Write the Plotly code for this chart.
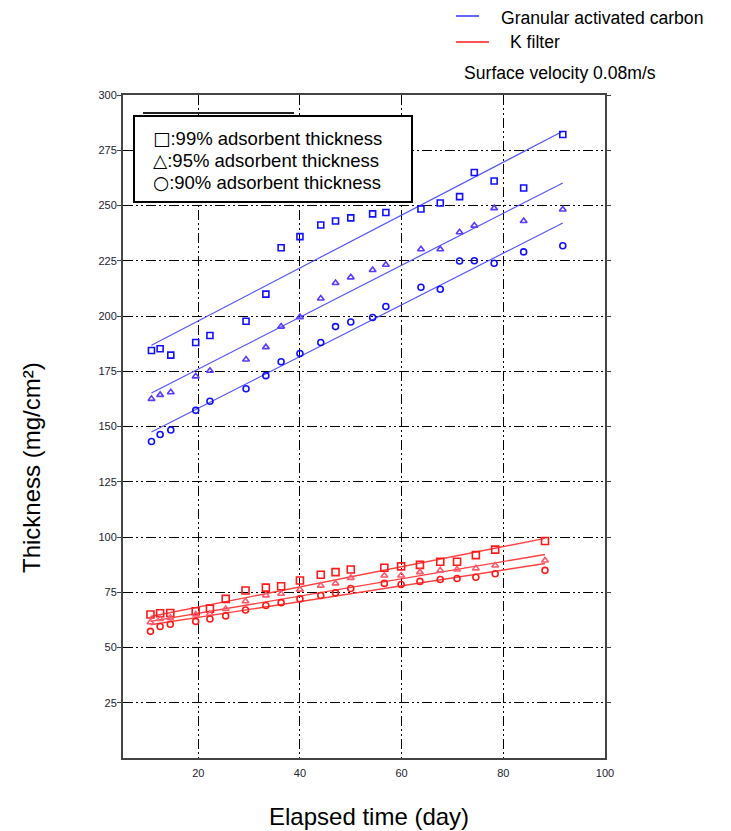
import plotly.graph_objects as go

# ---------------- data ----------------
gac_x = [10.8, 12.5, 14.6, 19.5, 22.3, 29.4, 33.3, 36.3, 40.0, 44.1, 47.0, 50.0, 54.3, 56.9,
         63.8, 67.6, 71.4, 74.3, 78.2, 84.0, 91.7]
gac_99 = [184.4, 185.2, 182.3, 188.0, 191.2, 197.6, 209.9, 230.9, 235.9, 241.2, 243.0, 244.4,
          246.2, 246.8, 248.4, 251.1, 254.0, 264.9, 261.1, 257.9, 282.1]
gac_95 = [162.5, 164.3, 165.5, 172.7, 175.2, 180.3, 185.9, 195.2, 199.5, 207.9, 214.9, 217.5,
          220.8, 223.2, 230.2, 230.2, 237.9, 240.9, 248.8, 243.0, 248.2]
gac_90 = [143.2, 146.4, 148.4, 157.3, 161.4, 167.1, 173.0, 179.3, 183.0, 188.0, 195.2, 197.3,
          199.3, 204.3, 213.0, 212.1, 224.9, 225.0, 223.9, 229.0, 231.8]

kf_x = [10.6, 12.5, 14.5, 19.5, 22.3, 25.4, 29.3, 33.3, 36.3, 40.0, 44.1, 47.0, 50.0, 56.6,
        59.9, 63.6, 67.6, 70.9, 74.6, 78.4, 88.2]
kf_99 = [64.9, 65.5, 65.6, 66.4, 67.6, 72.0, 75.8, 77.1, 77.7, 80.3, 82.9, 84.1, 85.3, 86.1,
         86.7, 87.4, 88.8, 88.8, 91.8, 94.3, 98.2]
kf_95 = [61.4, 62.9, 63.4, 64.9, 65.3, 67.4, 70.9, 73.6, 74.3, 76.2, 78.0, 79.0, 81.5, 82.6,
         82.6, 84.1, 84.9, 85.3, 85.8, 87.1, 89.4]
kf_90 = [57.3, 59.5, 60.5, 61.8, 62.9, 64.3, 67.0, 69.0, 70.3, 72.0, 73.5, 74.7, 76.7, 79.0,
         78.5, 79.9, 80.8, 81.2, 81.8, 83.4, 84.9]

# fitted trend lines (end points)
gac_fit_x = [10.8, 91.7]
gac_fit_99 = [186.8, 283.6]
gac_fit_95 = [165.2, 260.2]
gac_fit_90 = [147.5, 242.1]
kf_fit_x = [10.6, 88.2]
kf_fit_99 = [64.0, 99.4]
kf_fit_95 = [61.8, 92.1]
kf_fit_90 = [60.3, 88.0]

x_ticks = [20, 40, 60, 80, 100]
y_ticks = [25, 50, 75, 100, 125, 150, 175, 200, 225, 250, 275, 300]

series_symbols = ["□", "△", "○"]
series_labels = ["99% adsorbent thickness", "95% adsorbent thickness", "90% adsorbent thickness"]
legend_labels = ["Granular activated carbon", "K filter"]
note = "Surface velocity 0.08m/s"
x_title = "Elapsed time (day)"
y_title = "Thickness (mg/cm²)"

# ---------------- layout helpers ----------------
OFF = 8  # page body margin of the browser
W, H = 731 - OFF, 831 - OFF
L, R, T, B = 123 - OFF, 605 - OFF, 95 - OFF, 758 - OFF


def px(x):
    return (x - OFF - L) / (R - L)


def py(y):
    return (B - (y - OFF)) / (B - T)


BLUE = "#1010ff"
BLUE_LINE = "#5555ff"
RED = "#ff1a1a"
RED_LINE = "#ff4040"

fig = go.Figure()

for fx, fy, col, w in [(gac_fit_x, gac_fit_99, BLUE_LINE, 1.2), (gac_fit_x, gac_fit_95, BLUE_LINE, 1.2),
                       (gac_fit_x, gac_fit_90, BLUE_LINE, 1.2), (kf_fit_x, kf_fit_99, RED_LINE, 1.4),
                       (kf_fit_x, kf_fit_95, RED_LINE, 1.4), (kf_fit_x, kf_fit_90, RED_LINE, 1.4)]:
    fig.add_trace(go.Scatter(x=fx, y=fy, mode="lines", line=dict(color=col, width=w),
                             showlegend=False, hoverinfo="skip"))

for xs, ys, sym, col, sz in [
    (gac_x, gac_99, "square-open", BLUE, 6), (gac_x, gac_95, "triangle-up-open", "#5a3cff", 6),
    (gac_x, gac_90, "circle-open", BLUE, 6),
    (kf_x, kf_99, "square-open", RED, 7), (kf_x, kf_95, "triangle-up-open", "#ff5a6e", 6),
    (kf_x, kf_90, "circle-open", RED, 6)]:
    fig.add_trace(go.Scatter(x=xs, y=ys, mode="markers",
                             marker=dict(symbol=sym, size=sz, color=col, line=dict(color=col, width=1.6)),
                             showlegend=False))

grid_dash = "10px,3px,2px,3px,2px,3px"
tick_font = dict(family="Liberation Sans Narrow, Arial Narrow, Liberation Sans, Arial", size=11, color="#222233")

fig.update_xaxes(range=[5.2, 100], tickvals=x_ticks, ticktext=[str(v) for v in x_ticks],
                 showgrid=True, gridcolor="#000000", gridwidth=1, griddash=grid_dash,
                 showline=True, linecolor="#444444", linewidth=2, mirror=True,
                 ticks="", tickfont=tick_font, ticklabelstandoff=4, zeroline=False)
fig.update_yaxes(range=[0, 300], tickvals=y_ticks, ticktext=[str(v) for v in y_ticks],
                 showgrid=True, gridcolor="#000000", gridwidth=1, griddash=grid_dash,
                 showline=True, linecolor="#444444", linewidth=2, mirror="ticks",
                 ticks="outside", ticklen=4, tickcolor="#444444", tickfont=tick_font,
                 ticklabelstandoff=-2, zeroline=False)

shapes = [
    # artifact line above legend box
    dict(type="line", xref="paper", yref="paper", x0=px(143), x1=px(294), y0=py(113), y1=py(113),
         line=dict(color="#222222", width=2), layer="above"),
    # inner legend box
    dict(type="rect", xref="paper", yref="paper", x0=px(134), x1=px(412), y0=py(202), y1=py(116),
         line=dict(color="#000000", width=2), fillcolor="white", layer="above"),
    # top legend samples
    dict(type="line", xref="paper", yref="paper", x0=px(456), x1=px(479), y0=py(16), y1=py(16),
         line=dict(color="#3333ff", width=1.5)),
    dict(type="line", xref="paper", yref="paper", x0=px(456), x1=px(489), y0=py(42), y1=py(42),
         line=dict(color="#ff1a1a", width=1.5)),
]

main_font = "Liberation Sans, Arial, DejaVu Sans"
annotations = []
for i, (sym, lab) in enumerate(zip(series_symbols, series_labels)):
    txt = "<span style='font-family:DejaVu Sans'>" + sym + "</span>:" + lab
    annotations.append(dict(text=txt, xref="paper", yref="paper", x=px(151), y=py(138 + 22 * i),
                            xanchor="left", yanchor="middle", showarrow=False, height=21,
                            font=dict(family=main_font, size=18.5, color="#000000")))
annotations.append(dict(text=legend_labels[0], xref="paper", yref="paper", x=px(499), y=py(18),
                        xanchor="left", yanchor="middle", showarrow=False,
                        font=dict(family=main_font, size=17.6, color="#000000")))
annotations.append(dict(text=legend_labels[1], xref="paper", yref="paper", x=px(508), y=py(42),
                        xanchor="left", yanchor="middle", showarrow=False,
                        font=dict(family=main_font, size=17.6, color="#000000")))
annotations.append(dict(text=note, xref="paper", yref="paper", x=px(462), y=py(73),
                        xanchor="left", yanchor="middle", showarrow=False,
                        font=dict(family=main_font, size=17.6, color="#000000")))
annotations.append(dict(text=x_title, xref="paper", yref="paper", x=px(369), y=py(817),
                        xanchor="center", yanchor="middle", showarrow=False,
                        font=dict(family=main_font, size=24, color="#000000")))
annotations.append(dict(text=y_title, xref="paper", yref="paper", x=px(31), y=py(468),
                        xanchor="center", yanchor="middle", showarrow=False, textangle=-90,
                        font=dict(family=main_font, size=24, color="#000000")))

fig.update_layout(width=W, height=H, margin=dict(l=L, r=W - R, t=T, b=H - B),
                  paper_bgcolor="white", plot_bgcolor="white",
                  shapes=shapes, annotations=annotations, showlegend=False)

fig.write_html("out.html")
